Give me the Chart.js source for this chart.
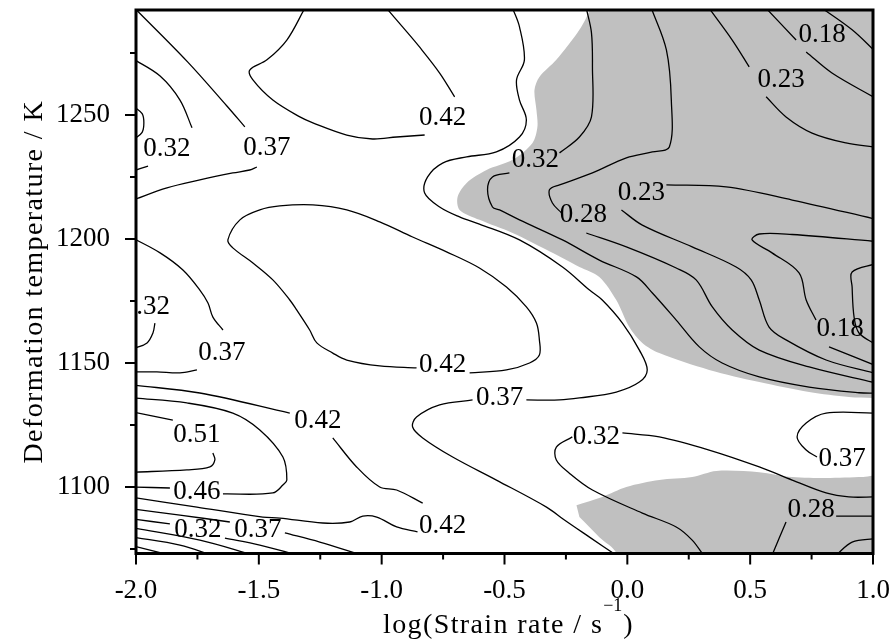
<!DOCTYPE html>
<html>
<head>
<meta charset="utf-8">
<script src="https://cdn.jsdelivr.net/npm/chart.js@4/dist/chart.umd.min.js"></script>
<style>
  html, body { margin: 0; padding: 0; background: #fff; }
  canvas { display: block; }
</style>
</head>
<body>
<canvas id="map" width="896" height="643"></canvas>
<script>
// axes: log(strain rate) vs deformation temperature (K)
const xRange = [-2.0, 1.0];
const yRange = [1073.2, 1292.3];
const xTickStep = 0.25, xLabelStep = 0.5;
const yTickStep = 25, yLabelStep = 50;

// contour lines as [logRate, T]; null leaves a gap where an inline label sits
const c037UpperLeft = [[-2.01,1293.5],[-1.79,1271.4],[-1.63,1253.6],[-1.557,1245.2], null,
  [-1.508,1229.0],[-1.537,1227.8],[-1.606,1226.6],[-1.74,1223.8],[-1.874,1220.6],[-2.01,1215.8]];
const c032UpperLeft = [[-2.01,1272.5],[-1.902,1265.7],[-1.821,1256.0],[-1.772,1244.8], null,
  [-1.951,1229.4],[-2.01,1227.5]];
const cEdgeArc = [[-2.01,1253.5],[-1.975,1250.5],[-1.968,1246.8],[-1.975,1243.0],[-2.01,1240.0]];
const c042Top = [[-1.313,1293],[-1.386,1280.2],[-1.467,1272.2],[-1.537,1268.1],[-1.524,1264.1],
  [-1.443,1256.0],[-1.333,1249.2],[-1.28,1246.8],[-1.142,1241.9],[-1.037,1240.3],[-0.939,1241.1],
  [-0.825,1241.9], null, [-0.703,1257.3],[-0.764,1266.9],[-0.846,1277.4],[-0.915,1285.5],[-0.98,1293]];
const c037Big = [[-0.467,1293],[-0.439,1285.5],[-0.419,1272.2],[-0.451,1264.1],[-0.439,1256.0],
  [-0.411,1248.0],[-0.439,1241.1],[-0.533,1235.1],[-0.654,1233.1],[-0.752,1230.6],[-0.813,1225.0],
  [-0.825,1218.5],[-0.764,1212.9],[-0.683,1208.9],[-0.602,1206.0],[-0.439,1199.6],[-0.264,1188.7],
  [-0.154,1179.4],[-0.102,1175.4],[-0.02,1166.1],[0.049,1155.2],[0.081,1147.2],[0.049,1142.3],
  [-0.045,1138.3],[-0.195,1135.9],[-0.276,1135.1],[-0.411,1135.1], null,
  [-0.63,1135.1],[-0.764,1133.1],[-0.858,1128.2],[-0.874,1124.2],[-0.833,1119.8],[-0.711,1112.1],
  [-0.533,1102.8],[-0.329,1091.9],[-0.256,1086.7],[-0.154,1079.8],[-0.045,1072.5]];
const c032Shaded = [[-0.167,1293],[-0.146,1283.1],[-0.142,1269.4],[-0.146,1249.2],[-0.195,1241.1],
  [-0.276,1234.7], null, [-0.48,1226.6],[-0.549,1225.0],[-0.569,1219.8],[-0.549,1212.9],[-0.52,1211.7],
  [-0.439,1207.7],[-0.264,1199.6],[-0.114,1191.5],[0.037,1184.7],[0.102,1178.2],[0.199,1167.3],
  [0.293,1156.5],[0.386,1150.0],[0.537,1144.4],[0.74,1140.3],[0.943,1138.0],[1.01,1137.8]];
const c028Shaded = [[0.098,1293],[0.159,1276.2],[0.179,1256.0],[0.171,1237.1],[0.102,1235.1],
  [-0.004,1232.7],[-0.142,1226.6],[-0.276,1221.8],[-0.317,1219.8],[-0.305,1214.5],[-0.268,1210.5], null,
  [-0.167,1202.4],[-0.004,1196.8],[0.199,1188.3],[0.28,1183.5],[0.346,1172.6],[0.427,1163.3],
  [0.537,1155.2],[0.74,1148.4],[1.01,1142.0]];
const c023Top = [[0.333,1293],[0.427,1280.2],[0.496,1269.4], null,
  [0.565,1257.3],[0.646,1249.2],[0.752,1242.7],[0.89,1238.7],[1.01,1237.0]];
const c018Top = [[0.565,1293],[0.687,1280.2], null, [0.728,1275.4],[0.833,1266.9],[1.01,1256.8]];
const c013Top = [[0.793,1293],[0.915,1284.3],[1.01,1275.5]];
const c023Mid = [[1.01,1208.0],[0.671,1215.7],[0.402,1221.0],[0.159,1221.8], null,
  [-0.024,1211.7],[0.061,1205.6],[0.264,1196.8],[0.443,1188.7],[0.504,1183.5],[0.537,1175.4],
  [0.577,1164.5],[0.646,1159.3],[0.809,1151.2],[1.01,1145.8]];
const c018Mid = [[1.01,1199.0],[0.671,1201.8],[0.537,1202.0],[0.508,1199.6],[0.589,1194.4],
  [0.699,1186.3],[0.728,1175.4],[0.768,1167.3], null, [0.821,1156.5],[1.01,1149.0]];
const c013Mid = [[1.01,1190.0],[0.915,1186.7],[0.915,1180.6],[0.923,1168.5],[0.943,1162.1],[1.01,1157.5]];
const c042Centre = [[-0.642,1146.0],[-0.492,1147.2],[-0.398,1150.0],[-0.358,1153.2],[-0.358,1159.3],
  [-0.37,1166.1],[-0.411,1172.6],[-0.492,1180.6],[-0.602,1188.3],[-0.736,1194.8],[-0.874,1200.8],
  [-1.008,1206.9],[-1.142,1211.7],[-1.28,1213.7],[-1.415,1213.3],[-1.496,1211.7],[-1.577,1207.7],
  [-1.626,1199.6],[-1.606,1196.4],[-1.524,1190.3],[-1.443,1183.5],[-1.374,1175.4],[-1.346,1171.4],
  [-1.293,1163.3],[-1.264,1158.1],[-1.199,1154.0],[-1.142,1151.2],[-1.008,1148.8],[-0.858,1148.0]];
const c037Left = [[-2.01,1200.2],[-1.902,1194.4],[-1.809,1187.5],[-1.74,1179.4],[-1.707,1174.2],
  [-1.687,1168.5],[-1.646,1163.3], null, [-1.752,1147.2],[-1.821,1146.0],[-1.915,1146.4],[-2.01,1146.4]];
const c032Left = [[-1.923,1166.1],[-1.931,1162.1],[-1.955,1158.1],[-2.01,1155.8]];
const c042Low = [[-2.01,1141.1],[-1.74,1137.9],[-1.374,1129.8], null,
  [-1.199,1119.8],[-1.102,1108.1],[-1.008,1100.0],[-0.939,1098.8],[-0.833,1093.5], null,
  [-0.854,1081.9],[-0.939,1083.9],[-1.02,1087.9],[-1.077,1088.3],[-1.13,1085.9],[-1.24,1085.5],
  [-1.415,1087.5],[-1.484,1087.9],[-1.752,1091.9],[-2.01,1095.8]];
const c046 = [[-2.01,1135.9],[-1.793,1133.9],[-1.606,1129.8],[-1.496,1123.0],[-1.402,1112.1],
  [-1.386,1102.8],[-1.402,1100.8],[-1.443,1097.6],[-1.646,1097.2], null, [-1.862,1099.6],[-2.01,1100.0]];
const c051 = [[-2.01,1130.2],[-1.85,1127.0], null,
  [-1.687,1113.7],[-1.679,1110.9],[-1.699,1108.1],[-1.793,1106.9],[-2.01,1106.0]];
const c037Bottom = [[-2.01,1091.1],[-1.821,1088.7],[-1.618,1085.9], null,
  [-1.394,1081.5],[-1.252,1077.8],[-1.08,1072.5]];
const c032Bottom = [[-2.01,1087.1],[-1.862,1085.1], null, [-1.638,1079.4],[-1.496,1076.6],[-1.34,1072.5]];
const c028Bottom = [[-2.01,1083.5],[-1.74,1078.6],[-1.52,1072.5]];
const c023Bottom = [[-2.01,1079.8],[-1.821,1076.6],[-1.69,1072.5]];
const c018Bottom = [[-2.01,1076.2],[-1.86,1072.5]];
const c032LowRight = [[1.01,1096.0],[0.902,1096.0],[0.809,1097.6],[0.671,1102.8],[0.537,1108.1],
  [0.333,1114.9],[0.13,1120.2],[-0.02,1121.8], null,
  [-0.224,1120.2],[-0.289,1116.1],[-0.289,1110.9],[-0.236,1105.6],[-0.142,1098.8],[0.061,1089.5],
  [0.199,1083.9],[0.264,1078.6],[0.31,1072.5]];
const c037Right = [[1.01,1129.8],[0.809,1129.8],[0.728,1125.8],[0.691,1120.2],[0.728,1114.9],[0.772,1112.1]];
const c028LowRight = [[0.589,1072.5],[0.646,1085.9], null, [0.85,1088.3],[1.01,1088.3]];
const cCorner = [[0.85,1072.5],[0.915,1077.8],[1.01,1079.2]];

// shaded (instability) domains, closed outlines
const shadeUpper = [[-0.154,1296],[-0.154,1292.3],[-0.195,1284.3],[-0.289,1272.2],[-0.358,1265.3],
  [-0.378,1260.1],[-0.37,1252.0],[-0.366,1245.2],[-0.386,1238.7],[-0.467,1231.9],[-0.573,1227.8],
  [-0.654,1222.6],[-0.691,1216.9],[-0.683,1211.7],[-0.602,1207.7],[-0.467,1202.4],[-0.329,1195.6],
  [-0.195,1188.7],[-0.114,1184.7],[-0.045,1175.4],[0.008,1164.5],[0.061,1158.1],[0.13,1154.0],
  [0.333,1147.2],[0.537,1142.3],[0.74,1138.3],[0.902,1136.3],[1.0,1135.9],[1.05,1135.9],[1.05,1296]];
const shadeLower = [[-0.207,1092.7],[-0.102,1096.0],[-0.004,1100.0],[0.13,1102.8],[0.264,1104.0],
  [0.362,1106.5],[0.537,1106.0],[0.671,1104.0],[0.809,1103.6],[0.96,1104.0],[1.05,1104.0],
  [1.05,1065],[-0.06,1065],[-0.045,1073.4],[-0.114,1079.8],[-0.195,1087.9]];

// inline contour labels: [text, logRate, T]
const contourLabels = [
  ['0.18', 0.793, 1282.3], ['0.23', 0.626, 1264.1], ['0.42', -0.752, 1248.8],
  ['0.32', -0.374, 1231.9], ['0.32', -1.874, 1236.3], ['0.37', -1.467, 1236.7],
  ['0.28', -0.179, 1209.7], ['0.23', 0.057, 1218.5], ['0.18', 0.866, 1163.7],
  ['0.32', -1.958, 1172.6], ['0.37', -1.65, 1154.0], ['0.42', -0.752, 1149.2],
  ['0.37', -0.52, 1135.9], ['0.42', -1.26, 1126.6], ['0.51', -1.752, 1121.0],
  ['0.46', -1.752, 1098.0], ['0.42', -0.752, 1084.3], ['0.32', -1.748, 1082.7],
  ['0.37', -1.504, 1082.7], ['0.32', -0.126, 1120.2], ['0.37', 0.874, 1111.3],
  ['0.28', 0.748, 1090.7]
];

const contours = [c037UpperLeft, c032UpperLeft, cEdgeArc, c042Top, c037Big, c032Shaded, c028Shaded,
  c023Top, c018Top, c013Top, c023Mid, c018Mid, c013Mid, c042Centre, c037Left, c032Left, c042Low,
  c046, c051, c037Bottom, c032Bottom, c028Bottom, c023Bottom, c018Bottom, c032LowRight, c037Right,
  c028LowRight, cCorner];
const shades = [shadeUpper, shadeLower];

const FONT = "'Liberation Serif', 'DejaVu Serif', serif";
const SHADE = 'rgb(192,192,192)';

function toPoints(arr) {
  return arr.map(p => p ? {x: p[0], y: p[1]} : {x: null, y: null});
}
function onStep(v, step) {
  const r = v / step;
  return Math.abs(r - Math.round(r)) < 1e-6;
}

const datasets = [];
shades.forEach(s => datasets.push({
  data: toPoints(s), fill: 'shape', backgroundColor: SHADE,
  borderColor: 'rgba(0,0,0,0)', borderWidth: 0, pointRadius: 0, tension: 0.3
}));
contours.forEach(c => datasets.push({
  data: toPoints(c), fill: false, borderColor: '#000', borderWidth: 1.3,
  pointRadius: 0, tension: 0.35, spanGaps: false
}));

// frame, tick marks, contour labels and axis titles
const mapDecor = {
  id: 'mapDecor',
  afterDatasetsDraw(chart) {
    const {ctx, chartArea: a, scales: {x, y}} = chart;

    ctx.save();
    ctx.beginPath();
    ctx.rect(a.left + 1.5, a.top, a.right - a.left, a.bottom - a.top);
    ctx.clip();
    ctx.font = '27px ' + FONT;
    ctx.fillStyle = '#000';
    ctx.textAlign = 'center';
    ctx.textBaseline = 'middle';
    contourLabels.forEach(([t, vx, vy]) => {
      ctx.fillText(t, x.getPixelForValue(vx), y.getPixelForValue(vy));
    });
    ctx.restore();

    ctx.save();
    ctx.strokeStyle = '#000';
    ctx.lineWidth = 2;
    ctx.beginPath();
    x.ticks.forEach(t => {
      const px = x.getPixelForValue(t.value);
      const len = onStep(t.value, xLabelStep) ? 11 : 6;
      ctx.moveTo(px, a.bottom);
      ctx.lineTo(px, a.bottom + len);
    });
    y.ticks.forEach(t => {
      const py = y.getPixelForValue(t.value);
      const len = onStep(t.value, yLabelStep) ? 11 : 6;
      ctx.moveTo(a.left, py);
      ctx.lineTo(a.left - len, py);
    });
    ctx.stroke();
    ctx.lineWidth = 3;
    ctx.strokeRect(a.left, a.top, a.right - a.left, a.bottom - a.top);
    ctx.restore();

    // axis titles
    ctx.save();
    ctx.fillStyle = '#000';
    ctx.textBaseline = 'alphabetic';
    ctx.textAlign = 'left';
    ctx.letterSpacing = '1.4px';
    ctx.font = '28px ' + FONT;
    const main = 'log(Strain rate / s';
    const wMain = ctx.measureText(main).width;
    const wClose = ctx.measureText(')').width;
    ctx.letterSpacing = '0px';
    ctx.font = '18px ' + FONT;
    const sup = '\u22121';
    const wSup = ctx.measureText(sup).width;
    const total = wMain + wSup + 1 + wClose;
    const base = a.bottom + 79;
    let x0 = (a.left + a.right) / 2 + 4 - total / 2;
    ctx.letterSpacing = '1.4px';
    ctx.font = '28px ' + FONT;
    ctx.fillText(main, x0, base);
    x0 += wMain;
    ctx.letterSpacing = '0px';
    ctx.font = '18px ' + FONT;
    ctx.fillText(sup, x0, base - 22);
    x0 += wSup + 1;
    ctx.font = '28px ' + FONT;
    ctx.fillText(')', x0, base);

    ctx.letterSpacing = '1.4px';
    ctx.translate(42, (a.top + a.bottom) / 2);
    ctx.rotate(-Math.PI / 2);
    ctx.textAlign = 'center';
    ctx.fillText('Deformation temperature / K', 0, 0);
    ctx.restore();
  }
};

new Chart(document.getElementById('map'), {
  type: 'line',
  data: { datasets: datasets },
  options: {
    responsive: false,
    animation: false,
    events: [],
    layout: { autoPadding: false, padding: { top: 10, right: 23, left: 0, bottom: 0 } },
    plugins: {
      legend: { display: false },
      tooltip: { enabled: false },
      filler: { drawTime: 'beforeDatasetsDraw' }
    },
    scales: {
      x: {
        type: 'linear', min: xRange[0], max: xRange[1],
        grid: { display: false }, border: { display: false },
        afterFit: s => { s.height = 89.5; s.paddingLeft = 0; s.paddingRight = 0; },
        ticks: {
          stepSize: xTickStep, autoSkip: false, maxRotation: 0, padding: 13,
          color: '#000', font: { family: FONT, size: 27 },
          callback: v => onStep(v, xLabelStep) ? v.toFixed(1) : ''
        }
      },
      y: {
        type: 'linear', min: yRange[0], max: yRange[1],
        grid: { display: false }, border: { display: false },
        afterFit: s => { s.width = 136; s.paddingTop = 0; s.paddingBottom = 0; },
        ticks: {
          stepSize: yTickStep, includeBounds: false, autoSkip: false, padding: 18,
          color: '#000', font: { family: FONT, size: 27 },
          callback: v => onStep(v, yLabelStep) ? String(v) : ''
        }
      }
    }
  },
  plugins: [mapDecor]
});
</script>
</body>
</html>
